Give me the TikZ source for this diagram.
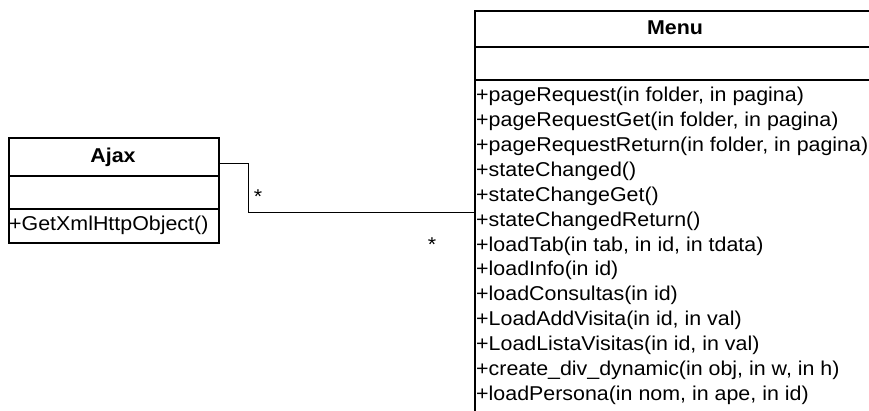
\documentclass[tikz,border=0pt]{standalone}
\usepackage{fontspec}
\setmainfont{Liberation Sans}
\newfontfamily\umlfont[FakeStretch=1.07]{Liberation Sans}
\begin{document}
\begin{tikzpicture}[x=1pt,y=1pt,
  box/.style={draw=black, line width=1.6pt, inner sep=0pt, anchor=north west},
  sep/.style={line width=1.6pt},
  conn/.style={line width=1pt},
  title/.style={font=\umlfont\fontsize{20}{23}\selectfont\bfseries, inner sep=0pt},
  meth/.style={font=\umlfont\fontsize{20}{23}\selectfont, anchor=west, inner sep=0pt},
  mult/.style={font=\umlfont\fontsize{20}{23}\selectfont, inner sep=0pt}]
\useasboundingbox (0,0) rectangle (869,-410);
\clip (0,0) rectangle (869,-410);
% Ajax class
\node[box, minimum width=210pt, minimum height=105pt] (ajax) at (8,-137) {};
\draw[sep] (8,-176) -- (218,-176);
\draw[sep] (8,-209) -- (218,-209);
\node[title] (ajaxname) at (113,-157) {Ajax};
\node[meth] (ajaxm) at (9,-225) {+GetXmlHttpObject()};
% Menu class
\node[box, minimum width=402pt, minimum height=420pt] (menu) at (474,-10) {};
\draw[sep] (474,-47) -- (876,-47);
\draw[sep] (474,-80) -- (876,-80);
\node[title] (menuname) at (675,-28) {Menu};
\foreach \t [count=\i from 0] in {
  +pageRequest(in folder{,} in pagina),
  +pageRequestGet(in folder{,} in pagina),
  +pageRequestReturn(in folder{,} in pagina),
  +stateChanged(),
  +stateChangeGet(),
  +stateChangedReturn(),
  +loadTab(in tab{,} in id{,} in tdata),
  +loadInfo(in id),
  +loadConsultas(in id),
  +LoadAddVisita(in id{,} in val),
  +LoadListaVisitas(in id{,} in val),
  +create\_div\_dynamic(in obj{,} in w{,} in h),
  +loadPersona(in nom{,} in ape{,} in id)}
  \node[meth] (m\i) at (476,-96.5-24.9*\i) {\t};
% association
\draw[conn] ([yshift=-26pt]ajax.north east) -- ++(29,0) |- ([yshift=-202pt]menu.north west);
\node[mult] (s1) at (258,-197) {*};
\node[mult] (s2) at (432,-245) {*};
\end{tikzpicture}
\end{document}
